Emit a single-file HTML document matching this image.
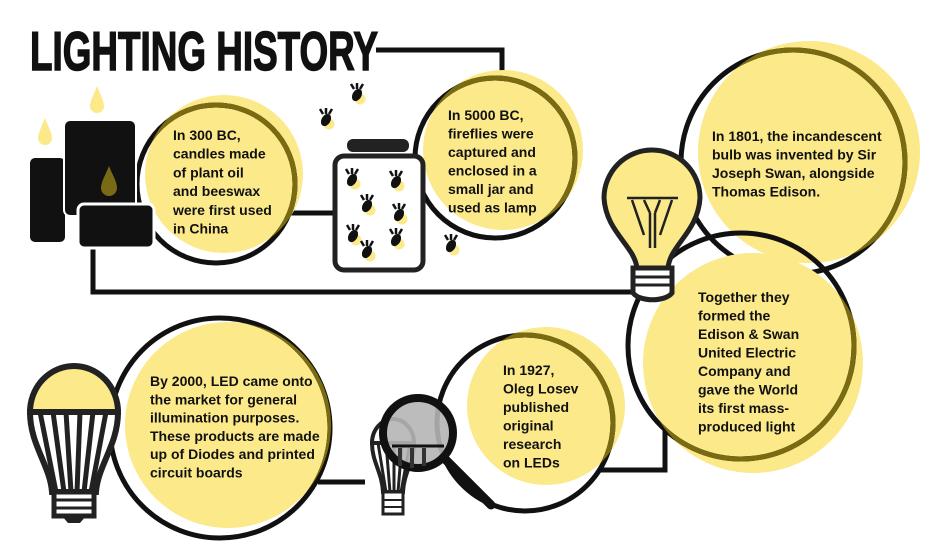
<!DOCTYPE html>
<html><head><meta charset="utf-8"><style>
html,body{margin:0;padding:0;background:#fff;}
svg{display:block;}
text{font-family:"Liberation Sans",sans-serif;font-weight:bold;fill:#111;}
.t{font-size:14px;}
</style></head><body>
<svg width="937" height="559" viewBox="0 0 937 559">
<defs>
<clipPath id="ledclip"><path d="M30,412 L118,412 C118,445 98,465 96,492 L52,492 C50,465 30,445 30,412 Z"/></clipPath>
<clipPath id="smallclip"><path d="M372,443 L414,443 C414,462 404,472 403,492 L383,492 C382,472 372,462 372,443 Z"/></clipPath>
<clipPath id="c1"><circle cx="224" cy="174" r="79"/></clipPath>
<clipPath id="c2"><circle cx="503" cy="150" r="80"/></clipPath>
<clipPath id="c3"><circle cx="809" cy="152" r="111"/></clipPath>
<clipPath id="c4"><circle cx="753" cy="363" r="110"/></clipPath>
<clipPath id="c5"><circle cx="546" cy="406" r="79"/></clipPath>
<clipPath id="c6"><circle cx="228" cy="425" r="103"/></clipPath>
<g id="fly"><circle cx="3" cy="4" r="5.5" fill="#fbe98a"/><ellipse cx="0" cy="0" rx="4.5" ry="6.5" fill="#111" transform="rotate(30)"/><path d="M-3,-6 L-6,-11 M3,-6 L6,-11 M0,-6 L0,-12" stroke="#111" stroke-width="2.5"/></g>
</defs>

<g stroke="#111" stroke-width="5" fill="none">
<path d="M376,50 L502,50 L502,80"/>
<path d="M290,213 L336,213"/>
<path d="M93,244 L93,292 L640,292"/>
<path d="M318,482 L365,482"/>
<path d="M600,470 L665,470 L665,420"/>
</g>

<text x="30" y="70" font-size="55" textLength="348" lengthAdjust="spacingAndGlyphs" stroke="#111" stroke-width="1.5">LIGHTING HISTORY</text>

<g>
<circle cx="224" cy="174" r="79" fill="#fbe98a"/>
<circle cx="216" cy="184" r="79" fill="none" stroke="#111" stroke-width="5"/>
<circle cx="216" cy="184" r="79" fill="none" stroke="#7a6a12" stroke-width="5" clip-path="url(#c1)"/>
</g>
<g>
<circle cx="503" cy="150" r="80" fill="#fbe98a"/>
<circle cx="495" cy="158" r="80" fill="none" stroke="#111" stroke-width="5"/>
<circle cx="495" cy="158" r="80" fill="none" stroke="#7a6a12" stroke-width="5" clip-path="url(#c2)"/>
</g>
<g>
<circle cx="809" cy="152" r="111" fill="#fbe98a"/>
<circle cx="793" cy="162" r="112" fill="none" stroke="#111" stroke-width="5"/>
<circle cx="793" cy="162" r="112" fill="none" stroke="#7a6a12" stroke-width="5" clip-path="url(#c3)"/>
</g>
<g>
<circle cx="753" cy="363" r="110" fill="#fbe98a"/>
<circle cx="741" cy="346" r="113" fill="none" stroke="#111" stroke-width="5"/>
<circle cx="741" cy="346" r="113" fill="none" stroke="#7a6a12" stroke-width="5" clip-path="url(#c4)"/>
</g>
<g>
<circle cx="546" cy="406" r="79" fill="#fbe98a"/>
<circle cx="525" cy="423" r="88" fill="none" stroke="#111" stroke-width="5"/>
<circle cx="525" cy="423" r="88" fill="none" stroke="#7a6a12" stroke-width="5" clip-path="url(#c5)"/>
</g>
<g>
<circle cx="228" cy="425" r="103" fill="#fbe98a"/>
<circle cx="220" cy="428" r="110" fill="none" stroke="#111" stroke-width="5"/>
<circle cx="220" cy="428" r="110" fill="none" stroke="#7a6a12" stroke-width="5" clip-path="url(#c6)"/>
</g>

<g>
<path d="M45,118 C41,128 38,134 38,138 A7,7 0 0 0 52,138 C52,134 49,128 45,118 Z" fill="#fbe98a"/>
<path d="M97,86 C93,96 90,102 90,106 A7,7 0 0 0 104,106 C104,102 101,96 97,86 Z" fill="#fbe98a"/>
<rect x="29" y="157" width="37" height="86" rx="6" fill="#111" stroke="#fff" stroke-width="2"/>
<rect x="64" y="120" width="72" height="96" rx="6" fill="#111" stroke="#fff" stroke-width="2"/>
<path d="M109,166 C105,176 101,182 101,188 A8,8 0 0 0 117,188 C117,182 113,176 109,166 Z" fill="#7a6a15"/>
<rect x="78" y="204" width="76" height="44" rx="6" fill="#111" stroke="#fff" stroke-width="3"/>
</g>

<g>
<rect x="347" y="139" width="62" height="13" rx="6" fill="#222"/>
<rect x="335" y="156" width="88" height="114" rx="9" fill="#fff" stroke="#222" stroke-width="5"/>
<use href="#fly" x="352" y="180"/><use href="#fly" x="396" y="182"/>
<use href="#fly" x="367" y="206"/><use href="#fly" x="399" y="215"/>
<use href="#fly" x="353" y="236"/><use href="#fly" x="396" y="240"/>
<use href="#fly" x="367" y="252"/>
<use href="#fly" x="357" y="95"/><use href="#fly" x="326" y="120"/><use href="#fly" x="451" y="246"/>
</g>

<g stroke="#222" stroke-width="5">
<path d="M637,268 C634,245 606,232 604,198 A48,48 0 1 1 700,198 C698,232 670,245 668,268 Z" fill="#fbe98a"/>
<path d="M627,198 L678,198 M632,200 L644,235 M672,200 L660,235 M644,200 L650,213 M660,200 L655,213 M650,213 L650,248 M655,213 L655,248" stroke-width="2.5" fill="none"/>
<path d="M633,268 L672,268 L672,293 C665,302 640,302 633,293 Z" fill="#fff"/>
<path d="M633,277 L672,277 M633,285 L672,285" stroke-width="3"/>
</g>

<g>
<path d="M30,412 A44,46 0 0 1 118,412 Z" fill="#fbe98a" stroke="#222" stroke-width="6"/>
<g clip-path="url(#ledclip)"><rect x="28" y="410" width="92" height="84" fill="#fff"/>
<path d="M40,412 L56,492 M53,412 L64,492 M66,412 L71,492 M80,412 L77,492 M93,412 L84,492 M106,412 L91,492" stroke="#222" stroke-width="5"/></g>
<path d="M30,412 L118,412 C118,445 98,465 96,492 L52,492 C50,465 30,445 30,412 Z" fill="none" stroke="#222" stroke-width="6"/>
<rect x="54" y="492" width="40" height="24" fill="#fff" stroke="#222" stroke-width="5"/>
<path d="M54,500 L94,500 M54,508 L94,508" stroke="#222" stroke-width="3"/>
<path d="M62,516 L86,516 L80,523 L68,523 Z" fill="#222"/>
</g>

<g>
<path d="M372,443 A21,24 0 0 1 414,443 Z" fill="#fff" stroke="#222" stroke-width="4"/>
<g clip-path="url(#smallclip)"><rect x="370" y="440" width="46" height="54" fill="#fff"/>
<path d="M378,443 L386,492 M386,443 L390,492 M394,443 L394,492 M402,443 L398,492 M410,443 L401,492" stroke="#222" stroke-width="3"/></g>
<path d="M372,443 L414,443 C414,462 404,472 403,492 L383,492 C382,472 372,462 372,443 Z" fill="none" stroke="#222" stroke-width="4"/>
<rect x="383" y="492" width="20" height="22" fill="#fff" stroke="#222" stroke-width="3"/>
<path d="M383,500 L403,500 M383,507 L403,507" stroke="#222" stroke-width="2"/>
<line x1="446" y1="460" x2="491" y2="505" stroke="#111" stroke-width="9" stroke-linecap="round"/>
<circle cx="418" cy="433" r="35" fill="#b5b5b5" fill-opacity="0.9" stroke="#111" stroke-width="8"/>
<path d="M392,446 L444,446" stroke="#111" stroke-width="3"/>
<path d="M400,448 L400,466 M412,448 L412,468 M424,448 L424,466" stroke="#333" stroke-width="4"/>
</g>

<text class="t" x="173" y="140">
<tspan x="173">In 300 BC,</tspan><tspan x="173" dy="18.7">candles made</tspan><tspan x="173" dy="18.7">of plant oil</tspan><tspan x="173" dy="18.7">and beeswax</tspan><tspan x="173" dy="18.7">were first used</tspan><tspan x="173" dy="18.7">in China</tspan></text>
<text class="t" x="448" y="120">
<tspan x="448">In 5000 BC,</tspan><tspan x="448" dy="18.5">fireflies were</tspan><tspan x="448" dy="18.5">captured and</tspan><tspan x="448" dy="18.5">enclosed in a</tspan><tspan x="448" dy="18.5">small jar and</tspan><tspan x="448" dy="18.5">used as lamp</tspan></text>
<text class="t" x="712" y="141">
<tspan x="712">In 1801, the incandescent</tspan><tspan x="712" dy="18.5">bulb was invented by Sir</tspan><tspan x="712" dy="18.5">Joseph Swan, alongside</tspan><tspan x="712" dy="18.5">Thomas Edison.</tspan></text>
<text class="t" x="698" y="302">
<tspan x="698">Together they</tspan><tspan x="698" dy="18.5">formed the</tspan><tspan x="698" dy="18.5">Edison &amp; Swan</tspan><tspan x="698" dy="18.5">United Electric</tspan><tspan x="698" dy="18.5">Company and</tspan><tspan x="698" dy="18.5">gave the World</tspan><tspan x="698" dy="18.5">its first mass-</tspan><tspan x="698" dy="18.5">produced light</tspan></text>
<text class="t" x="503" y="375">
<tspan x="503">In 1927,</tspan><tspan x="503" dy="18.5">Oleg Losev</tspan><tspan x="503" dy="18.5">published</tspan><tspan x="503" dy="18.5">original</tspan><tspan x="503" dy="18.5">research</tspan><tspan x="503" dy="18.5">on LEDs</tspan></text>
<text class="t" x="150" y="386">
<tspan x="150">By 2000, LED came onto</tspan><tspan x="150" dy="18.3">the market for general</tspan><tspan x="150" dy="18.3">illumination purposes.</tspan><tspan x="150" dy="18.3">These products are made</tspan><tspan x="150" dy="18.3">up of Diodes and printed</tspan><tspan x="150" dy="18.3">circuit boards</tspan></text>
</svg>
</body></html>
